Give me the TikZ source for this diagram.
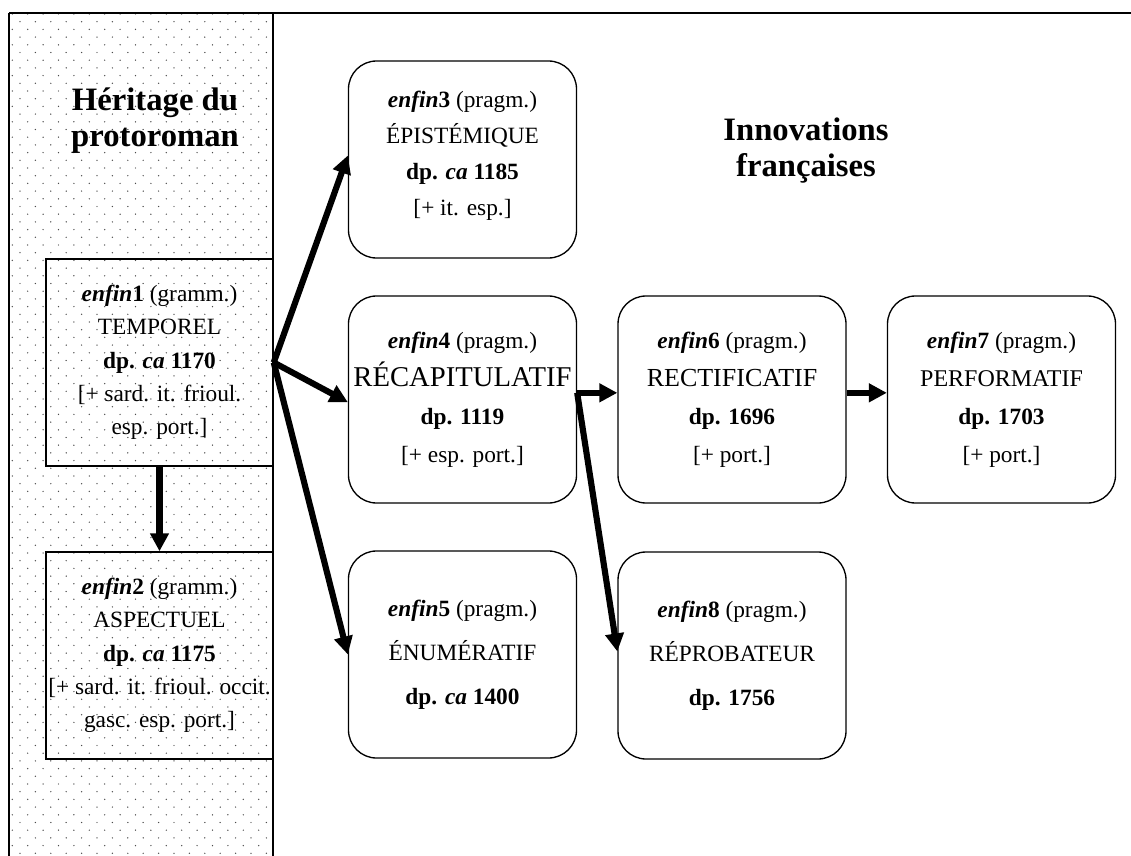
\documentclass[tikz,border=0pt]{standalone}
\usepackage{fontspec}
\setmainfont{Liberation Serif}
\usetikzlibrary{arrows.meta, positioning}

\begin{document}
\begin{tikzpicture}[x=0.75pt, y=-0.75pt]

    \tikzset{
        leftBox/.style={draw, line width=1.1pt, minimum width=170.25pt, minimum height=155.25pt, align=center, inner sep=0pt, font=\fontsize{17.5}{25}\selectfont},
        rightBox/.style={draw, rounded corners=21pt, line width=1pt, minimum width=171pt, minimum height=155.25pt, align=center, inner sep=0pt, font=\fontsize{17.5}{28.5}\selectfont},
        titleText/.style={align=center, font=\fontsize{24.5}{27}\selectfont\bfseries},
        bigArrow/.style={-{Triangle[length=13.5pt, width=13.5pt]}, line width=4.6pt}
    }

    \useasboundingbox (0,0) rectangle (1131,856);

    % Fond pointillé (héritage)
    \begin{scope}
        \clip (9,13) rectangle (273,856);
        \foreach \j in {0,...,110}
            \foreach \i in {0,...,17}
                \fill[black!70] ({12.3+15.4*\i+7.7*mod(\j,2)},{14+7.7*\j}) circle[radius=0.55pt];
    \end{scope}

    % Cadre
    \draw[line width=1.6pt] (9,13) -- (1131,13);
    \draw[line width=1.6pt] (9,13) -- (9,856);
    \draw[line width=1.6pt] (273,13) -- (273,856);

    % Titres
    \node[titleText] (herit) at (155,121) {Héritage du\\protoroman};
    \node[titleText] (innov) at (806,151) {Innovations\\françaises};

    % Emplois hérités
    \node[leftBox] (e1) at (159.5,362.5) {\textbf{\textit{enfin}1} (gramm.)\\TEMPOREL\\\textbf{dp. \textit{ca} 1170}\\{[+ sard. it. frioul.}\\esp. port.]};
    \node[leftBox] (e2) at (159.5,655.5) {\textbf{\textit{enfin}2} (gramm.)\\ASPECTUEL\\\textbf{dp. \textit{ca} 1175}\\{[+ sard. it. frioul. occit.}\\gasc. esp. port.]};

    % Innovations
    \node[rightBox, minimum height=147.75pt, font=\fontsize{17.5}{27}\selectfont] (e3) at (462.5,159.5) {\textbf{\textit{enfin}3} (pragm.)\\ÉPISTÉMIQUE\\\textbf{dp. \textit{ca} 1185}\\{[+ it. esp.]}\\[-18pt]\mbox{}};
    \node[rightBox] (e4) at (462.5,399.5) {\textbf{\textit{enfin}4} (pragm.)\\{\fontsize{21.5}{28.5}\selectfont RÉCAPITULATIF}\\\textbf{dp. 1119}\\{[+ esp. port.]}};
    \node[rightBox, font=\fontsize{17.5}{33}\selectfont] (e5) at (462.5,654.5) {\textbf{\textit{enfin}5} (pragm.)\\ÉNUMÉRATIF\\\textbf{dp. \textit{ca} 1400}};
    \node[rightBox] (e6) at (732,399.5) {\textbf{\textit{enfin}6} (pragm.)\\{\fontsize{19.5}{28.5}\selectfont RECTIFICATIF}\\\textbf{dp. 1696}\\{[+ port.]}};
    \node[rightBox] (e7) at (1001.5,399.5) {\textbf{\textit{enfin}7} (pragm.)\\{\fontsize{18}{28.5}\selectfont PERFORMATIF}\\\textbf{dp. 1703}\\{[+ port.]}};
    \node[rightBox, font=\fontsize{17.5}{33}\selectfont] (e8) at (732,655.5) {\textbf{\textit{enfin}8} (pragm.)\\RÉPROBATEUR\\\textbf{dp. 1756}};

    % Flèches
    \draw[bigArrow] (e1.south) -- (e2.north);
    \draw[bigArrow] (e1.east) -- ([yshift=3pt]e3.west);
    \draw[bigArrow] (e1.east) -- ([yshift=-2pt]e4.west);
    \draw[bigArrow] (e1.east) -- (e5.west);
    \draw[bigArrow] ([yshift=5pt]e4.east) -- ([yshift=5pt]e6.west);
    \draw[bigArrow] ([yshift=5pt]e4.east) -- ([yshift=3pt]e8.west);
    \draw[bigArrow] ([yshift=5pt]e6.east) -- ([yshift=5pt]e7.west);

\end{tikzpicture}
\end{document}
